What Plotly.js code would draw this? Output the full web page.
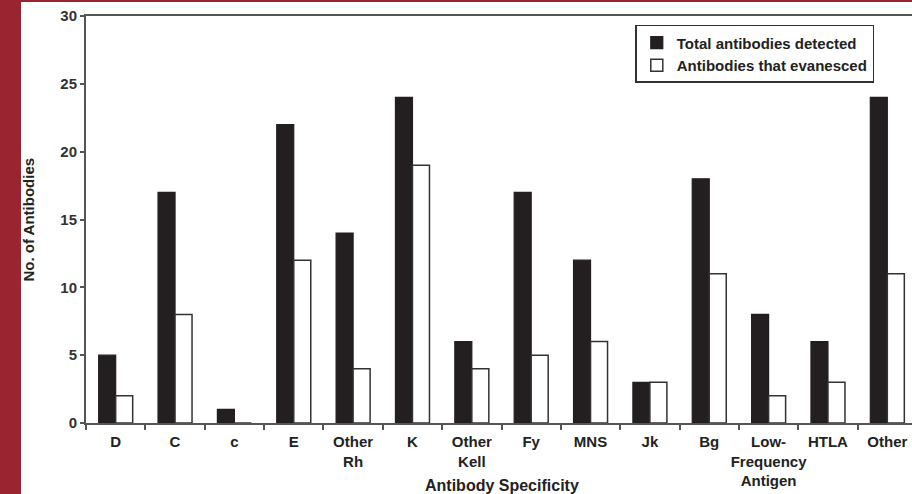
<!DOCTYPE html>
<html><head><meta charset="utf-8">
<script src="https://cdn.plot.ly/plotly-3.0.1.min.js"></script>
<style>
html,body{margin:0;padding:0;width:912px;height:494px;overflow:hidden;background:#fff;}
#chart{position:absolute;left:0;top:0;width:920px;height:494px;}
.band{position:absolute;background:#9a2530;z-index:10;}
</style></head>
<body><div id="chart"></div>
<div class="band" style="left:0;top:0;width:21px;height:494px;"></div>
<div class="band" style="left:0;top:0;width:912px;height:2px;"></div>
<script>
var categories = ["D","C","c","E","Other<br>Rh","K","Other<br>Kell","Fy","MNS","Jk","Bg","Low-<br>Frequency<br>Antigen","HTLA","Other"];
var totalDetected = [5,17,1,22,14,24,6,17,12,3,18,8,6,24];
var evanesced = [2,8,0,12,4,19,4,5,6,3,11,2,3,11];
var seriesNames = ["Total antibodies detected","Antibodies that evanesced"];
var yTicks = [0,5,10,15,20,25,30];

var ink = "#231f20";
var fnt = "Liberation Sans, Arial, Helvetica, sans-serif";
var traces = [
  {type:"bar", name:seriesNames[0], x:categories, y:totalDetected,
   marker:{color:ink, line:{color:ink, width:1.2}}},
  {type:"bar", name:seriesNames[1], x:categories, y:evanesced,
   marker:{color:"#ffffff", line:{color:"#333", width:1.5}}}
];
var layout = {
  width:920, height:494,
  margin:{l:86, r:3, t:16, b:71},
  paper_bgcolor:"#ffffff", plot_bgcolor:"#ffffff",
  barmode:"group", bargap:0.427, bargroupgap:0,
  showlegend:true,
  font:{family:fnt, color:"#222"},
  xaxis:{type:"category", range:[-0.5,13.5], showgrid:false, zeroline:false,
    showline:true, linecolor:"#555", linewidth:2, mirror:true,
    ticks:"outside", tickson:"boundaries", ticklen:5, tickwidth:2, tickcolor:"#555",
    tickangle:0, automargin:false, ticklabelstandoff:4,
    tickfont:{family:fnt, size:15, color:"#222", weight:"bold"}, fixedrange:true},
  yaxis:{range:[0,30], tickvals:yTicks, ticktext:yTicks.map(String), showgrid:false, zeroline:false,
    showline:true, linecolor:"#555", linewidth:2, automargin:false,
    ticks:"outside", ticklen:4, tickwidth:2, tickcolor:"#555",
    tickfont:{family:fnt, size:15, color:"#333", weight:"bold"}, fixedrange:true},
  legend:{x:0.661, y:0.978, xanchor:"left", yanchor:"top",
    bordercolor:"#333", borderwidth:1.5, bgcolor:"#fff",
    font:{family:fnt, size:15, color:"#222", weight:"bold"}, traceorder:"normal"},
  annotations:[
    {text:"<b>Antibody Specificity</b>", xref:"paper", yref:"paper", x:0.5, y:0, yshift:-62,
     xanchor:"center", yanchor:"middle", showarrow:false, font:{family:fnt, size:16, color:"#222"}},
    {text:"<b>No. of Antibodies</b>", xref:"paper", yref:"paper", x:0, xshift:-58, y:0.5,
     textangle:-90, xanchor:"center", yanchor:"middle", showarrow:false, font:{family:fnt, size:15, color:"#222"}}
  ]
};
Plotly.newPlot("chart", traces, layout, {displayModeBar:false, staticPlot:true});
</script></body></html>
